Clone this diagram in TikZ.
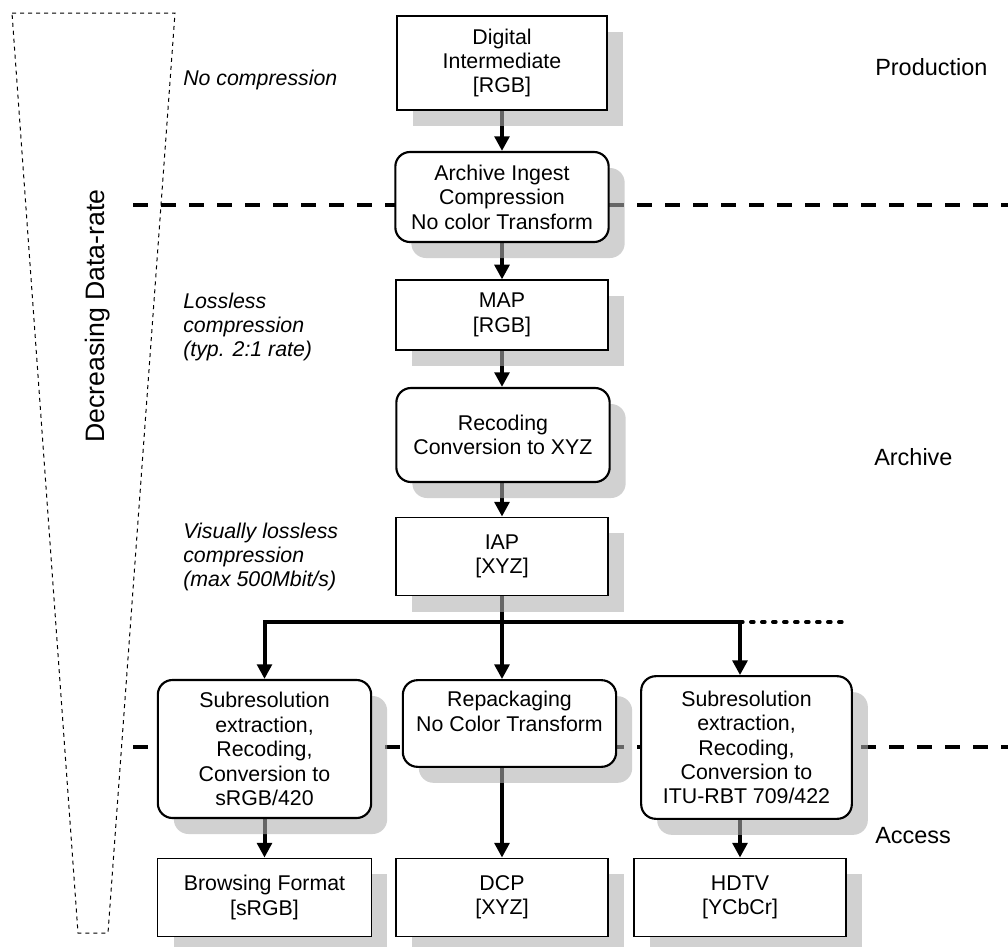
\documentclass[tikz,border=0pt]{standalone}
\usepackage{fontspec}
\setmainfont{Liberation Sans}
\usetikzlibrary{arrows.meta,shadows,backgrounds}
\tikzset{
  boxtext/.style={font=\fontsize{16}{18.3}\selectfont, align=center, inner sep=0pt},
  shad/.style={drop shadow={shadow xshift=12pt, shadow yshift=-12pt, fill=black!31, opacity=0.58}},
  sqbox/.style={boxtext, draw, line width=0.9pt, fill=white, shad},
  sqthick/.style={sqbox, line width=1.6pt},
  rbox/.style={sqbox, line width=1.6pt, rounded corners=11pt},
  flow/.style={line width=3pt, -{Triangle[length=11pt,width=11pt]}},
  busline/.style={line width=3pt},
  busdots/.style={line width=3pt, line cap=round, dash pattern=on 2pt off 6.25pt},
  sepline/.style={line width=3pt, dash pattern=on 11.25pt off 9.75pt},
  funnel/.style={line width=0.75pt, dash pattern=on 3pt off 3pt},
  note/.style={font=\fontsize{16}{18.3}\selectfont\itshape, align=left, anchor=west, inner sep=0pt},
  stage/.style={font=\fontsize{17.6}{20}\selectfont, anchor=west, inner sep=0pt},
}
\begin{document}
\begin{tikzpicture}[x=0.75pt,y=-0.75pt]
\useasboundingbox (0,0) rectangle (1008,947);

% boxes
\node[sqthick, minimum width=158pt, minimum height=70.5pt] (di) at (502,63) {Digital\\Intermediate\\{}[RGB]};
\node[rbox, minimum width=160pt, minimum height=67.5pt] (ai) at (502,197) {Archive Ingest\\Compression\\No color Transform};
\node[sqbox, minimum width=159pt, minimum height=52.5pt] (map) at (502,315) {MAP\\{}[RGB]};
\node[rbox, minimum width=160pt, minimum height=70.5pt] (rec) at (503,435) {Recoding\\Conversion to XYZ};
\node[sqbox, minimum width=159pt, minimum height=59pt] (iap) at (502,556.5) {IAP\\{}[XYZ]};
\node[rbox, minimum width=160pt, minimum height=103.5pt] (sub1) at (264.5,749) {Subresolution\\extraction,\\Recoding,\\Conversion to\\sRGB/420};
\node[rbox, minimum width=160pt, minimum height=65pt] (rep) at (509.5,723.5) {Repackaging\\No Color Transform\\\mbox{}};
\node[rbox, minimum width=158pt, minimum height=107pt] (sub2) at (746.5,747.5) {Subresolution\\extraction,\\Recoding,\\Conversion to\\ITU-RBT 709/422};
\node[sqbox, minimum width=160pt, minimum height=59pt] (bf) at (264.5,897.5) {Browsing Format\\{}[sRGB]};
\node[sqbox, minimum width=159pt, minimum height=59pt] (dcp) at (502,897.5) {DCP\\{}[XYZ]};
\node[sqbox, minimum width=159pt, minimum height=59pt] (hd) at (740,897.5) {HDTV\\{}[YCbCr]};

% bus coordinates
\coordinate (bm) at (502,622);
\coordinate (br) at (740,622);
\coordinate (be) at (842,622);

% separators
\coordinate (s1a) at (133,205);
\coordinate (s1b) at (1010,205);
\coordinate (s2a) at (133,747);
\coordinate (s2b) at (1010,747);

\begin{scope}[on background layer]
  \draw[sepline] (s1a) -- (s1b);
  \draw[sepline] (s2a) -- (s2b);
  \draw[flow] (di.south) -- (ai.north);
  \draw[flow] (ai.south) -- (ai.south |- map.north);
  \draw[flow] (map.south) -- (map.south |- rec.north);
  \draw[flow] (iap.south |- rec.south) -- (iap.north);
  \draw[busline] (iap.south) -- (bm);
  \draw[flow] (bm) -| (sub1.north);
  \draw[flow] (bm) -- (br) -- (br |- sub2.north);
  \draw[flow] (bm) -- (bm |- rep.north);
  \draw[busdots] (br) -- (be);
  \draw[flow] (sub1.south) -- (bf.north);
  \draw[flow] (dcp.north |- rep.south) -- (dcp.north);
  \draw[flow] (hd.north |- sub2.south) -- (hd.north);
\end{scope}

% funnel
\draw[funnel] (12,13) -- (175,13) -- (108,933) -- (78,933) -- cycle;
\node[rotate=90, font=\fontsize{20}{24}\selectfont, inner sep=0pt] (dr) at (98,316) {Decreasing Data-rate};

% notes
\node[note] (n1) at (183,80) {No compression};
\node[note] (n2) at (183,327) {Lossless\\compression\\(typ. 2:1 rate)};
\node[note] (n3) at (183,557) {Visually lossless\\compression\\(max 500Mbit/s)};

% stages
\node[stage] (prod) at (875,67) {Production};
\node[stage] (arch) at (874,457) {Archive};
\node[stage] (acc) at (875,836) {Access};
\end{tikzpicture}
\end{document}
